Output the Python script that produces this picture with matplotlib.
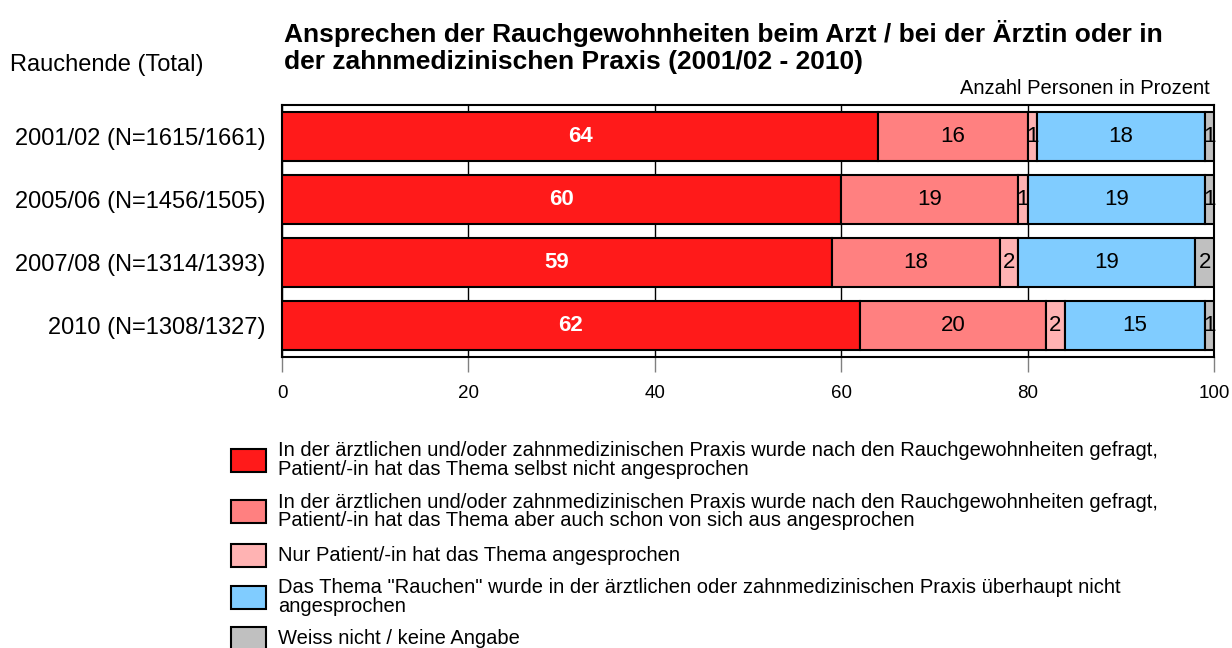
import numpy as np
import matplotlib.pyplot as plt
from matplotlib.patches import Rectangle

plt.rcParams['font.family'] = ['Liberation Sans', 'DejaVu Sans']

rows = ['2001/02 (N=1615/1661)', '2005/06 (N=1456/1505)',
        '2007/08 (N=1314/1393)', '2010 (N=1308/1327)']
gefragt_nicht = [64, 60, 59, 62]
gefragt_auch = [16, 19, 18, 20]
nur_patient = [1, 1, 2, 2]
nicht_angesprochen = [18, 19, 19, 15]
weiss_nicht = [1, 1, 2, 1]

series = [gefragt_nicht, gefragt_auch, nur_patient, nicht_angesprochen, weiss_nicht]
colors = ['#FF1A1A', '#FF8080', '#FFB3B3', '#80CCFF', '#C0C0C0']
legend_labels = [
    'In der ärztlichen und/oder zahnmedizinischen Praxis wurde nach den Rauchgewohnheiten gefragt,\nPatient/-in hat das Thema selbst nicht angesprochen',
    'In der ärztlichen und/oder zahnmedizinischen Praxis wurde nach den Rauchgewohnheiten gefragt,\nPatient/-in hat das Thema aber auch schon von sich aus angesprochen',
    'Nur Patient/-in hat das Thema angesprochen',
    'Das Thema "Rauchen" wurde in der ärztlichen oder zahnmedizinischen Praxis überhaupt nicht\nangesprochen',
    'Weiss nicht / keine Angabe',
]

fig = plt.figure(figsize=(12.32, 6.48), dpi=100)
ax = fig.add_axes([282/1232, 1-357/648, (1214-282)/1232, (357-105)/648])

y = np.arange(len(rows))
left = np.zeros(len(rows))
for i, (vals, c) in enumerate(zip(series, colors)):
    vals = np.array(vals, dtype=float)
    ax.barh(y, vals, left=left, height=0.79, color=c, edgecolor='black',
            linewidth=1.5, zorder=3)
    for j in range(len(rows)):
        cx = left[j] + vals[j] / 2
        if i == 0:
            ax.text(cx, y[j], f'{int(vals[j])}', ha='center', va='center',
                    color='white', fontweight='bold', fontsize=16, zorder=4)
        else:
            ax.text(cx, y[j], f'{int(vals[j])}', ha='center', va='center',
                    color='black', fontsize=16, zorder=4)
    left += vals

ax.set_xlim(0, 100)
ax.set_ylim(3.5, -0.5)
ax.set_xticks(range(0, 101, 20))
ax.tick_params(axis='x', labelsize=13.5, length=11, width=1, color='#808080', pad=9)
ax.set_yticks(y)
ax.set_yticklabels(rows, fontsize=17)
ax.tick_params(axis='y', length=0, pad=12)
ax.grid(axis='x', color='black', linewidth=1, zorder=0)
for s in ax.spines.values():
    s.set_linewidth(1.5)

fig.text(284/1232, 1-47/648, 'Ansprechen der Rauchgewohnheiten beim Arzt / bei der Ärztin oder in\nder zahnmedizinischen Praxis (2001/02 - 2010)',
         fontsize=19, fontweight='bold', va='center', ha='left', linespacing=1.2)
fig.text(10/1232, 1-65/648, 'Rauchende (Total)', fontsize=17, va='center')
fig.text(1210/1232, 1-89/648, 'Anzahl Personen in Prozent', fontsize=14.5,
         va='center', ha='right')

# legend drawn by hand
patch_y = [460, 511.5, 555.5, 597, 638]
for c, lab, py in zip(colors, legend_labels, patch_y):
    fig.patches.append(Rectangle((231/1232, 1-(py+11.5)/648), 35/1232, 23/648,
                                 transform=fig.transFigure, facecolor=c,
                                 edgecolor='black', linewidth=1.5))
    fig.text(278/1232, 1-py/648, lab, fontsize=14.5, va='center', ha='left',
             linespacing=0.95)

plt.savefig('out.png', dpi=100)
